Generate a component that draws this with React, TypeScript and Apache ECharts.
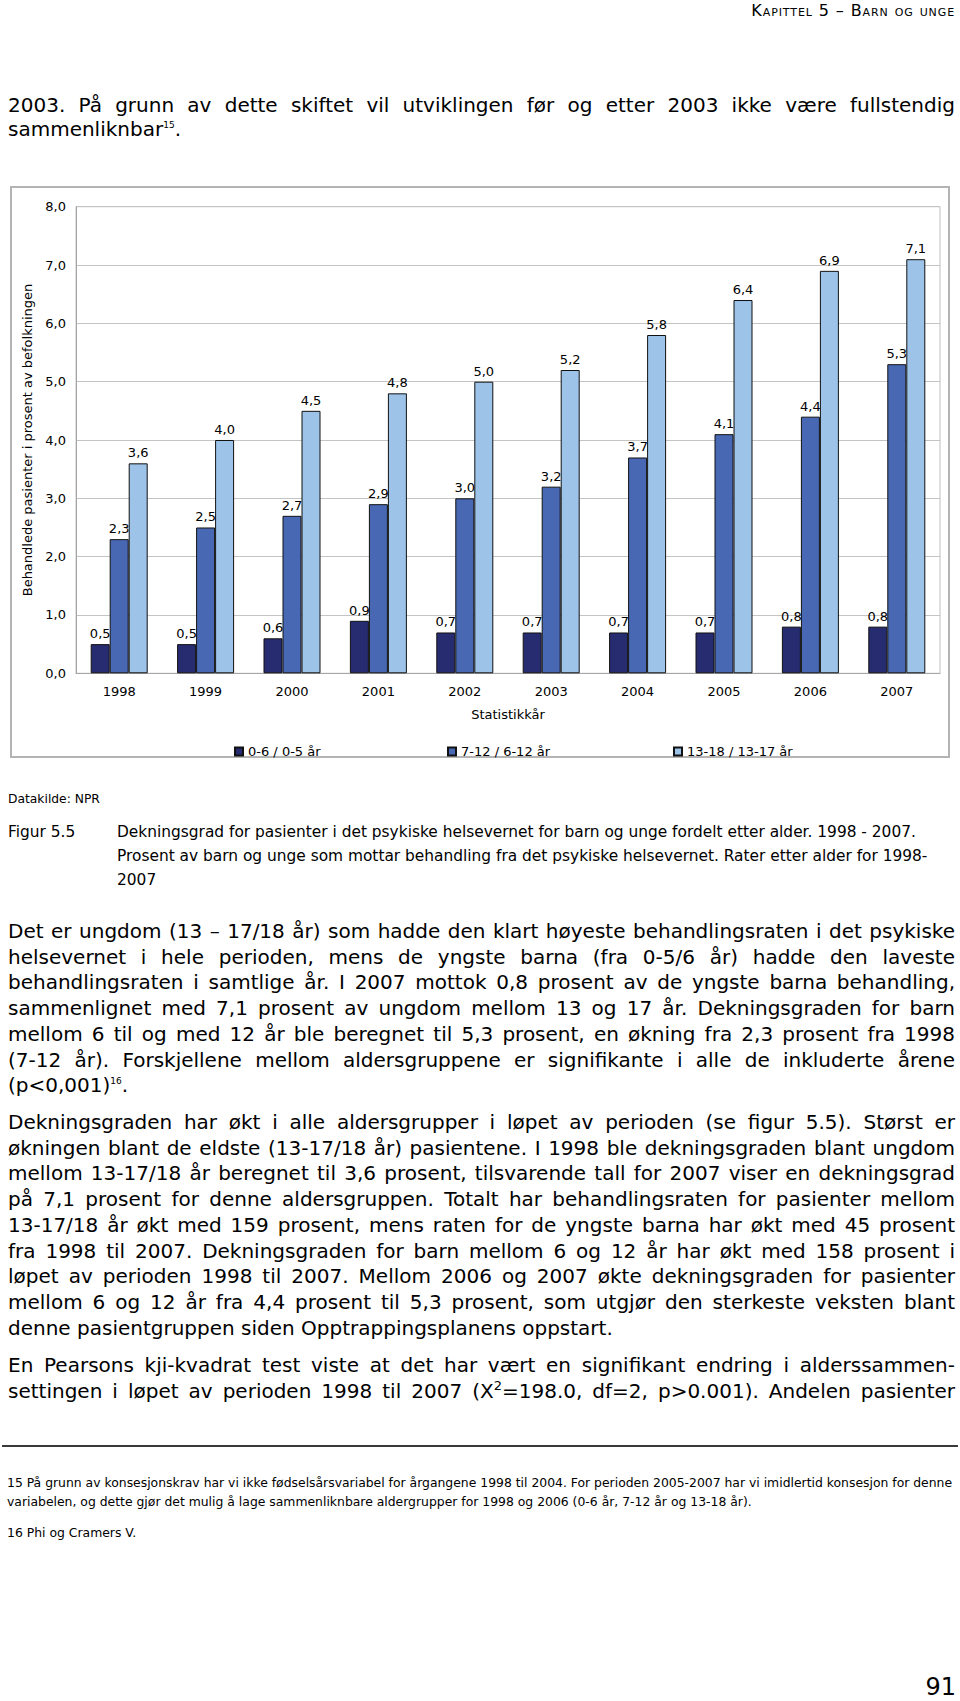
import React, { useEffect, useRef } from "react";
import * as echarts from "echarts";

// ---------- data ----------
const years = ["1998", "1999", "2000", "2001", "2002", "2003", "2004", "2005", "2006", "2007"];
const seriesNames = ["0-6 / 0-5 år", "7-12 / 6-12 år", "13-18 / 13-17 år"];
const youngest = [0.5, 0.5, 0.6, 0.9, 0.7, 0.7, 0.7, 0.7, 0.8, 0.8];
const middle = [2.3, 2.5, 2.7, 2.9, 3.0, 3.2, 3.7, 4.1, 4.4, 5.3];
const oldest = [3.6, 4.0, 4.5, 4.8, 5.0, 5.2, 5.8, 6.4, 6.9, 7.1];
const barColors = ["#272B70", "#4868B4", "#9DC3E8"];
const yMin = 0;
const yMax = 8;
const yInterval = 1;
const yAxisTitle = "Behandlede pasienter i prosent av befolkningen";
const xAxisTitle = "Statistikkår";

// ---------- page text ----------
const headerText = "Kapittel 5 – Barn og unge";
const para0 = ["2003. På grunn av dette skiftet vil utviklingen før og etter 2003 ikke være fullstendig"];
const para1 = [
  "Det er ungdom (13 – 17/18 år) som hadde den klart høyeste behandlingsraten i det psykiske",
  "helsevernet i hele perioden, mens de yngste barna (fra 0-5/6 år) hadde den laveste",
  "behandlingsraten i samtlige år. I 2007 mottok 0,8 prosent av de yngste barna behandling,",
  "sammenlignet med 7,1 prosent av ungdom mellom 13 og 17 år. Dekningsgraden for barn",
  "mellom 6 til og med 12 år ble beregnet til 5,3 prosent, en økning fra 2,3 prosent fra 1998",
  "(7-12 år). Forskjellene mellom aldersgruppene er signifikante i alle de inkluderte årene",
];
const para2 = [
  "Dekningsgraden har økt i alle aldersgrupper i løpet av perioden (se figur 5.5). Størst er",
  "økningen blant de eldste (13-17/18 år) pasientene. I 1998 ble dekningsgraden blant ungdom",
  "mellom 13-17/18 år beregnet til 3,6 prosent, tilsvarende tall for 2007 viser en dekningsgrad",
  "på 7,1 prosent for denne aldersgruppen. Totalt har behandlingsraten for pasienter mellom",
  "13-17/18 år økt med 159 prosent, mens raten for de yngste barna har økt med 45 prosent",
  "fra 1998 til 2007. Dekningsgraden for barn mellom 6 og 12 år har økt med 158 prosent i",
  "løpet av perioden 1998 til 2007. Mellom 2006 og 2007 økte dekningsgraden for pasienter",
  "mellom 6 og 12 år fra 4,4 prosent til 5,3 prosent, som utgjør den sterkeste veksten blant",
];
const para2Last = "denne pasientgruppen siden Opptrappingsplanens oppstart.";
const para3First = "En Pearsons kji-kvadrat test viste at det har vært en signifikant endring i alderssammen-";
const captionLines = [
  "Dekningsgrad for pasienter i det psykiske helsevernet for barn og unge fordelt etter alder. 1998 - 2007.",
  "Prosent av barn og unge som mottar behandling fra det psykiske helsevernet. Rater etter alder for 1998-",
  "2007",
];
const footnote15 = [
  "15 På grunn av konsesjonskrav har vi ikke fødselsårsvariabel for årgangene 1998 til 2004. For perioden 2005-2007 har vi imidlertid konsesjon for denne",
  "variabelen, og dette gjør det mulig å lage sammenliknbare aldergrupper for 1998 og 2006 (0-6 år, 7-12 år og 13-18 år).",
];
const footnote16 = "16 Phi og Cramers V.";

const FONT = "'DejaVu Sans', Verdana, sans-serif";

function Line(props: {
  top: number;
  left?: number;
  width?: number;
  size?: number;
  lh?: number;
  justify?: boolean;
  align?: "left" | "right" | "center";
  style?: React.CSSProperties;
  children: React.ReactNode;
}) {
  const { top, left = 8, width = 947, size = 20, lh = 26, justify = false, align = "left", style, children } = props;
  return (
    <div
      style={{
        position: "absolute",
        top: top - lh / 2,
        left,
        width,
        height: lh,
        lineHeight: lh + "px",
        fontSize: size,
        fontFamily: FONT,
        color: "#000",
        whiteSpace: "nowrap",
        textAlign: justify ? "justify" : align,
        textAlignLast: justify ? "justify" : align,
        ...style,
      }}
    >
      {children}
    </div>
  );
}

const Sup = ({ children, size = 9 }: { children: React.ReactNode; size?: number }) => (
  <span style={{ fontSize: size, verticalAlign: "super", lineHeight: 0 }}>{children}</span>
);

function Chart() {
  const ref = useRef<HTMLDivElement>(null);
  useEffect(() => {
    if (!ref.current) return;
    const chart = echarts.init(ref.current, undefined, { renderer: "svg" });
    const fmt = (v: number) => v.toFixed(1).replace(".", ",");
    const dataSets = [youngest, middle, oldest];
    const legendLefts = [219, 432, 658];
    chart.setOption({
      animation: false,
      textStyle: { fontFamily: FONT, color: "#000" },
      graphic: [
        {
          type: "rect",
          shape: { x: 1, y: 1, width: 938, height: 570 },
          style: { fill: "none", stroke: "#B4B4B4", lineWidth: 2 },
          z: 0,
        },
      ],
      legend: seriesNames.map((n, i) => ({
        data: [n],
        left: legendLefts[i],
        top: 554,
        icon: "rect",
        itemWidth: 8,
        itemHeight: 8,
        textStyle: { fontFamily: FONT, fontSize: 13, color: "#000" },
        selectedMode: false,
      })),
      grid: {
        left: 66,
        right: 10,
        top: 20.7,
        bottom: 84.7,
        show: true,
        borderColor: "#BEBEBE",
        borderWidth: 1,
      },
      xAxis: {
        type: "category",
        data: years,
        name: xAxisTitle,
        nameLocation: "middle",
        nameGap: 35,
        nameTextStyle: { fontFamily: FONT, fontSize: 13, color: "#000" },
        axisLine: { lineStyle: { color: "#A6A6A6", width: 1 } },
        axisTick: { show: false },
        axisLabel: { fontFamily: FONT, fontSize: 13, color: "#000", margin: 12 },
      },
      yAxis: {
        type: "value",
        min: yMin,
        max: yMax,
        interval: yInterval,
        name: yAxisTitle,
        nameLocation: "middle",
        nameGap: 32,
        nameTextStyle: { fontFamily: FONT, fontSize: 13, color: "#000" },
        axisLine: { show: true, lineStyle: { color: "#A6A6A6", width: 1 } },
        axisTick: { show: false },
        axisLabel: { fontFamily: FONT, fontSize: 13, color: "#000", margin: 10, formatter: fmt },
        splitLine: { lineStyle: { color: "#C4C4C4", width: 1 } },
      },
      series: seriesNames.map((n, i) => ({
        type: "bar",
        name: n,
        data: dataSets[i],
        barWidth: 19,
        barGap: "0%",
        z: 2 + i,
        itemStyle: { color: barColors[i], borderColor: "#111", borderWidth: 1 },
        label: {
          show: true,
          position: "top",
          distance: 4,
          fontFamily: FONT,
          fontSize: 13,
          color: "#000",
          formatter: (p: any) => fmt(p.value),
        },
      })),
    });
    return () => chart.dispose();
  }, []);
  return <div ref={ref} style={{ position: "absolute", left: 10, top: 186, width: 940, height: 572 }} />;
}

export default function App() {
  const lh = 25.7;
  return (
    <div style={{ position: "absolute", left: 0, top: 0, width: 960, height: 1701, background: "#fff", overflow: "hidden" }}>
      {/* header */}
      <div
        style={{
          position: "absolute",
          top: 1,
          right: 5,
          fontFamily: FONT,
          fontSize: 16,
          letterSpacing: 0.9,
          fontVariant: "small-caps",
          lineHeight: "20px",
          color: "#000",
          whiteSpace: "nowrap",
        }}
      >
        {headerText}
      </div>

      {/* paragraph 0 */}
      <Line top={105} justify>{para0[0]}</Line>
      <Line top={129}>
        sammenliknbar<Sup>15</Sup>.
      </Line>

      <Chart />

      {/* source + caption */}
      <Line top={799} size={12.3} lh={16}>Datakilde: NPR</Line>
      <Line top={832} size={15.4} lh={24} left={8} width={100}>Figur 5.5</Line>
      {captionLines.map((t, i) => (
        <Line key={"c" + i} top={832 + i * 24} size={15.4} lh={24} left={117} width={840}>
          {t}
        </Line>
      ))}

      {/* paragraph 1 */}
      {para1.map((t, i) => (
        <Line key={"p1" + i} top={931 + i * lh} justify>
          {t}
        </Line>
      ))}
      <Line top={931 + 6 * lh}>
        (p&lt;0,001)<Sup>16</Sup>.
      </Line>

      {/* paragraph 2 */}
      {para2.map((t, i) => (
        <Line key={"p2" + i} top={1122 + i * lh} justify>
          {t}
        </Line>
      ))}
      <Line top={1122 + 8 * lh}>{para2Last}</Line>

      {/* paragraph 3 */}
      <Line top={1365} justify>{para3First}</Line>
      <Line top={1391} justify>
        settingen i løpet av perioden 1998 til 2007 (X<Sup size={13}>2</Sup>=198.0, df=2, p&gt;0.001). Andelen pasienter
      </Line>

      {/* footnote separator */}
      <div style={{ position: "absolute", left: 2, top: 1445, width: 956, height: 2, background: "#3a3a3a" }} />

      {footnote15.map((t, i) => (
        <Line key={"f" + i} top={1483 + i * 19} size={12.4} lh={18} left={7} width={952}>
          {t}
        </Line>
      ))}
      <Line top={1533} size={12.4} lh={18} left={7} width={400}>{footnote16}</Line>

      {/* page number */}
      <div
        style={{
          position: "absolute",
          top: 1674,
          right: 4,
          fontFamily: FONT,
          fontSize: 24,
          lineHeight: "26px",
          color: "#000",
        }}
      >
        91
      </div>
    </div>
  );
}
